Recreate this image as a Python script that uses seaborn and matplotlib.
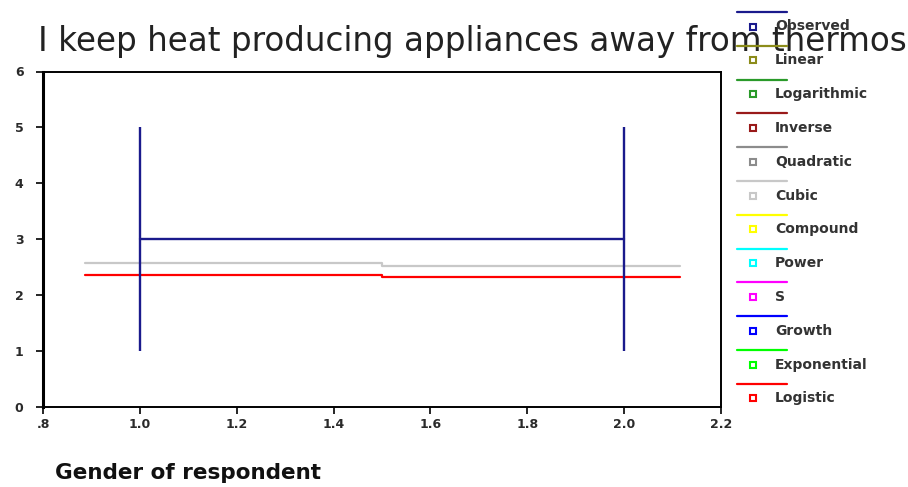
import matplotlib
matplotlib.use("Agg")
import matplotlib.pyplot as plt
from matplotlib.lines import Line2D
import pandas as pd
import seaborn as sns

# Observed data: range and mean of responses for each gender code
gender = [1.0, 2.0]
obs_min = [1, 1]
obs_max = [5, 5]
obs_mean = [3, 3]

# Fitted curves (only cubic and logistic are visible in the plot)
fit_x = [0.886, 1.5, 1.5, 2.115]
cubic_y = [2.57, 2.57, 2.53, 2.53]
logistic_y = [2.36, 2.36, 2.32, 2.32]

# Legend entries
models = ['Observed', 'Linear', 'Logarithmic', 'Inverse', 'Quadratic', 'Cubic',
          'Compound', 'Power', 'S', 'Growth', 'Exponential', 'Logistic']
model_colors = ['#1a1a8c', '#8c8c1a', '#2a9a2a', '#991a1a', '#8c8c8c', '#c8c8c8',
                '#ffff00', '#00ffff', '#ff00ff', '#0000ff', '#00ff00', '#ff0000']

x_ticks = [0.8, 1.0, 1.2, 1.4, 1.6, 1.8, 2.0, 2.2]
x_tick_labels = ['.8', '1.0', '1.2', '1.4', '1.6', '1.8', '2.0', '2.2']
y_ticks = [0, 1, 2, 3, 4, 5, 6]

sns.set_style('white')
plt.rcParams['font.family'] = ['DejaVu Sans']

fig = plt.figure(figsize=(9.08, 4.87), dpi=100)
ax = fig.add_axes([43 / 908, 1 - 407 / 487, 678 / 908, 335.5 / 487])

# Observed: vertical range lines plus mean connector
ax.vlines(gender, obs_min, obs_max, color=model_colors[0], lw=1.7, zorder=3)
obs_df = pd.DataFrame({'x': gender, 'y': obs_mean})
sns.lineplot(data=obs_df, x='x', y='y', ax=ax, color=model_colors[0], lw=1.7,
             estimator=None, sort=False, zorder=3)

fit_df = pd.DataFrame({'x': fit_x, 'cubic': cubic_y, 'logistic': logistic_y})
sns.lineplot(data=fit_df, x='x', y='cubic', ax=ax, color=model_colors[5], lw=1.6,
             estimator=None, sort=False, zorder=2)
sns.lineplot(data=fit_df, x='x', y='logistic', ax=ax, color=model_colors[11], lw=1.6,
             estimator=None, sort=False, zorder=2)

ax.set_xlim(0.8, 2.2)
ax.set_ylim(0, 6)
ax.set_xticks(x_ticks)
ax.set_xticklabels(x_tick_labels)
ax.set_yticks(y_ticks)
ax.set_xlabel('')
ax.set_ylabel('')
ax.tick_params(axis='both', direction='out', length=5, width=1.2, color='black',
               labelsize=9, bottom=True, left=True)
ax.tick_params(axis='y', pad=9)
ax.tick_params(axis='x', pad=3)
for lab in ax.get_xticklabels() + ax.get_yticklabels():
    lab.set_fontweight('bold')
    lab.set_color('#2a2a2a')
for side, sp in ax.spines.items():
    sp.set_visible(True)
    sp.set_color('black')
    sp.set_linewidth(1.4)
ax.spines['left'].set_linewidth(2.2)

# Title (drawn beneath the legend, cut at the figure edge as in the source)
fig.text(38 / 908, 1 - 42 / 487, 'I keep heat producing appliances away from thermos',
         fontsize=23.5, color='#222222', va='center', ha='left', zorder=1)

# x-axis label
fig.text(55 / 908, 1 - 473 / 487, 'Gender of respondent', fontsize=15.5,
         fontweight='bold', color='#111111', va='center', ha='left')

# SPSS-style legend: line row then marker + label row for each model
step = 33.8
for i, (name, c) in enumerate(zip(models, model_colors)):
    y_line = 1 - (12 + i * step) / 487
    y_mark = 1 - (26.5 + i * step) / 487
    fig.add_artist(Line2D([737 / 908, 787 / 908], [y_line, y_line], color=c, lw=1.6,
                          transform=fig.transFigure, zorder=5))
    fig.add_artist(Line2D([753 / 908], [y_mark], marker='s', ms=4.5, mfc='white',
                          mec=c, mew=1.5, ls='none', transform=fig.transFigure, zorder=5))
    fig.text(775 / 908, y_mark, name, fontsize=10, fontweight='bold',
             color='#333333', va='center', ha='left', zorder=6)

fig.savefig('out.png', dpi=100)
